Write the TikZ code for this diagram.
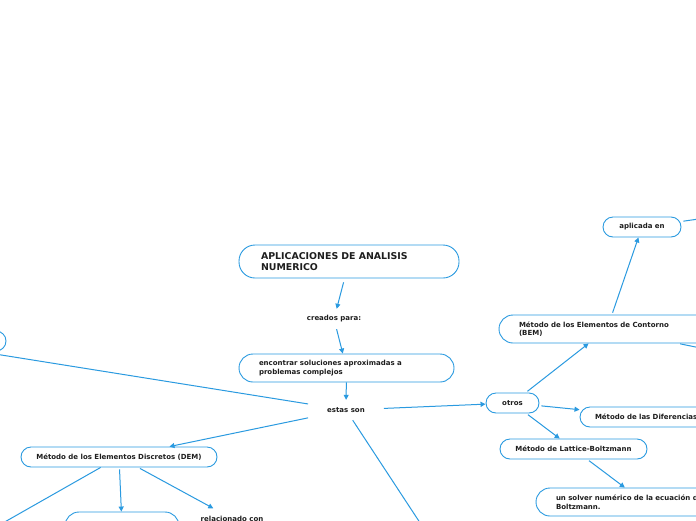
\documentclass[tikz,border=0pt]{standalone}
\usepackage{fontspec}
\setmainfont{DejaVu Sans}
\usetikzlibrary{arrows.meta,positioning,shapes}
\definecolor{mapline}{HTML}{2A9AE0}
\definecolor{maptext}{HTML}{1E1E1E}

\begin{document}
\begin{tikzpicture}[x=1pt, y=-1pt,
  pill/.style={draw=mapline, line width=0.9pt, fill=white, rounded corners=10pt,
    minimum height=20pt, inner sep=0pt, text=maptext,
    font=\fontsize{7}{8.5}\selectfont\bfseries},
  pillwide/.style={pill, align=left, inner xsep=20pt, minimum height=28pt, rounded corners=14pt},
  lbl/.style={text=maptext, minimum height=20pt, inner xsep=19pt, inner ysep=0pt,
    font=\fontsize{7}{8.5}\selectfont\bfseries},
  conn/.style={draw=mapline, line width=1pt, -{Triangle[length=5pt,width=5pt]}}
]
  \useasboundingbox (0,0) rectangle (696,520);
  \fill[white] (0,0) rectangle (696,520);

  % Main branch
  \node[pillwide, text width=176pt, inner xsep=22pt, minimum height=33pt, rounded corners=16pt,
    font=\fontsize{9.4}{11}\selectfont\bfseries] (title) at (349,261.5) {APLICACIONES DE ANALISIS\\NUMERICO};
  \node[lbl] (creados) at (334,319) {creados para:};
  \node[pillwide, text width=175pt] (encontrar) at (346.5,368) {encontrar soluciones aproximadas a\\problemas complejos};
  \node[lbl] (estas) at (346,410) {estas son};

  % Left side
  \node[pill, minimum width=80pt] (previo) at (-34,341) {};
  \node[pill, minimum width=196pt] (dem) at (119,457) {Método de los Elementos Discretos (DEM)};
  \node[pill, minimum width=114pt, minimum height=28pt, rounded corners=14pt] (demhijo) at (122,526) {};
  \node[lbl] (relacionado) at (232,518.5) {relacionado con};

  % Right side
  \node[pill, minimum width=53pt] (otros) at (512.5,403) {otros};
  \node[pillwide, text width=176pt] (bem) at (607,329) {Método de los Elementos de Contorno\\(BEM)};
  \node[pill, minimum width=78pt] (aplicada) at (642,227) {aplicada en};
  \node[pill, align=left, inner xsep=15pt, text width=116pt] (difer) at (653,417) {Método de las Diferencias};
  \node[pill, minimum width=147pt] (lattice) at (573.5,449) {Método de Lattice-Boltzmann};
  \node[pillwide, text width=176pt] (solver) at (644,502) {un solver numérico de la ecuación de\\Boltzmann.};

  % Ends outside the frame
  \coordinate (fueraL) at (-30,350);
  \coordinate (fueraDL) at (-20,536);
  \coordinate (fueraD) at (430,538);
  \coordinate (fueraR1) at (720,216);
  \coordinate (fueraR2) at (740,356);

  % Connectors
  \draw[conn, shorten <=4pt] (title) -- (creados);
  \draw[conn] (creados) -- (encontrar);
  \draw[conn] (encontrar) -- (estas);
  \draw[conn] (estas) -- (fueraL);
  \draw[conn] (estas) -- (dem);
  \draw[conn] (estas) -- (fueraD);
  \draw[conn] (estas) -- (otros);
  \draw[conn] (dem) -- (fueraDL);
  \draw[conn, shorten <=2pt] (dem) -- (demhijo);
  \draw[conn, shorten <=2pt] (dem) -- (relacionado);
  \draw[conn, shorten <=2pt] (otros) -- (bem);
  \draw[conn, shorten <=2pt] (otros) -- (difer);
  \draw[conn, shorten <=2pt] (otros) -- (lattice);
  \draw[conn, shorten <=2pt] (bem) -- (aplicada);
  \draw[conn, shorten <=2pt] (bem) -- (fueraR2);
  \draw[conn, shorten <=2pt] (aplicada) -- (fueraR1);
  \draw[conn, shorten <=2pt] (lattice) -- (solver);
\end{tikzpicture}
\end{document}
